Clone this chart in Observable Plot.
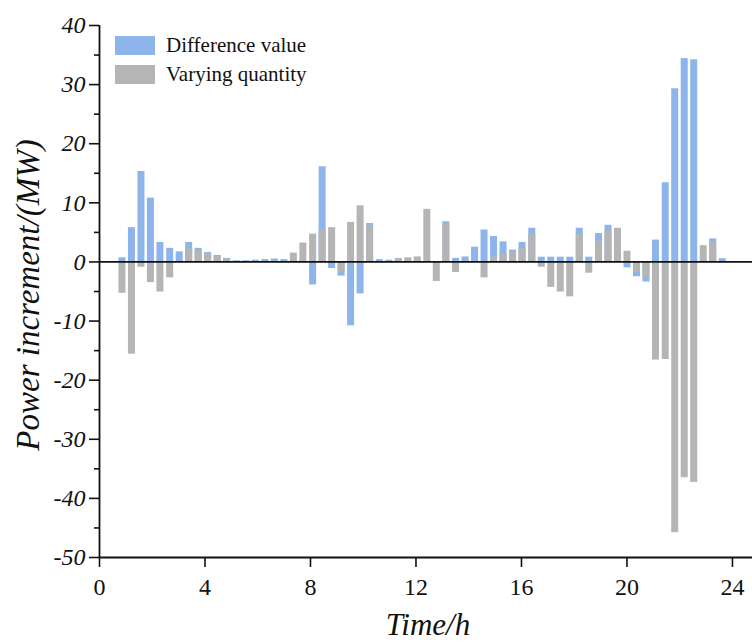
<!DOCTYPE html>
<html>
<head>
<meta charset="utf-8">
<script src="https://cdn.jsdelivr.net/npm/d3@7"></script>
<script src="https://cdn.jsdelivr.net/npm/@observablehq/plot@0.6"></script>
<style>
  html, body { margin: 0; padding: 0; background: #fff; }
  #wrap { position: relative; width: 752px; height: 642px; overflow: hidden; font-family: "Liberation Serif", "Times New Roman", serif; }
  #wrap svg { position: absolute; left: 0; top: 0; }
  #wrap svg text { font-family: "Liberation Serif", "Times New Roman", serif; }
  .legend { position: absolute; left: 115px; top: 31px; font-size: 21px; color: #111; }
  .legend .row { display: flex; align-items: center; height: 29px; }
  .legend .sw { width: 40px; height: 19px; margin-right: 11px; }
  .ylab { position: absolute; left: 28px; top: 295px; transform: translate(-50%, -50%) rotate(-90deg); font-size: 33px; line-height: 1; font-style: italic; white-space: nowrap; color: #111; }
  .xlab { position: absolute; left: 428px; top: 609px; transform: translateX(-50%); font-size: 31px; line-height: 1; font-style: italic; white-space: nowrap; color: #111; }
</style>
</head>
<body>
<div id="wrap"></div>
<script>
// Time of each bar (h)
const times = [0.87, 1.23, 1.59, 1.95, 2.31, 2.68, 3.04, 3.40, 3.76, 4.12, 4.48, 4.84, 5.21, 5.57, 5.93, 6.29,
  6.65, 7.01, 7.37, 7.73, 8.10, 8.46, 8.82, 9.18, 9.54, 9.90, 10.26, 10.63, 10.99, 11.35, 11.71, 12.07,
  12.43, 12.79, 13.15, 13.52, 13.88, 14.24, 14.60, 14.96, 15.32, 15.68, 16.04, 16.41, 16.77, 17.13, 17.49, 17.85,
  18.21, 18.57, 18.94, 19.30, 19.66, 20.02, 20.38, 20.74, 21.10, 21.47, 21.83, 22.19, 22.55, 22.91, 23.27, 23.63];
// Difference value (MW)
const diffValues = [0.7, 5.8, 15.3, 10.8, 3.3, 2.3, 1.7, 3.3, 2.3, 1.6, 1.1, 0.6, 0.2, 0.2, 0.3, 0.4,
  0.5, 0.4, 0, 0, -3.9, 16.1, -1.1, -2.4, -10.8, -5.4, 6.5, 0.4, 0.3, 0.4, 0, 0,
  0, 0, 6.8, 0.6, 0.85, 2.5, 5.4, 4.3, 3.4, 2.0, 3.3, 5.7, 0.8, 0.8, 0.8, 0.8,
  5.7, 0.8, 4.8, 6.2, 0, -1.0, -2.5, -3.4, 3.7, 13.4, 29.3, 34.4, 34.2, 0, 3.9, 0.55];
// Varying quantity (MW)
const varyValues = [-5.3, -15.6, -0.9, -3.5, -5.1, -2.7, 0, 2.3, 1.9, 1.4, 1.0, 0.5, 0.1, 0.1, 0.1, 0.1,
  0.1, 0.1, 1.5, 3.2, 4.7, 5.5, 5.8, -1.6, 6.7, 9.5, 6.2, 0.1, 0.1, 0.6, 0.7, 0.85,
  8.9, -3.3, 6.4, -1.8, 0.2, 0, -2.7, 0.8, 1.3, 1.6, 2.3, 4.7, -0.9, -4.3, -5.1, -5.9,
  4.7, -1.9, 3.5, 5.2, 5.7, 1.8, -1.8, -2.6, -16.6, -16.5, -45.8, -36.5, -37.3, 2.75, 3.3, 0];

const seriesNames = ["Difference value", "Varying quantity"];
const seriesColors = ["#8db5ec", "#b5b5b5"];
const xTicks = [0, 4, 8, 12, 16, 20, 24];
const yTicks = [-50, -40, -30, -20, -10, 0, 10, 20, 30, 40];
const yMinorTicks = [-45, -35, -25, -15, -5, 5, 15, 25, 35];

const serif = "Liberation Serif";
const half = 0.133;
const diffData = times.map((t, i) => ({t, v: diffValues[i]}));
const varyData = times.map((t, i) => ({t, v: varyValues[i]}));
const fmt = d => String(d);

const chart = Plot.plot({
  width: 752,
  height: 642,
  marginLeft: 99,
  marginRight: 0,
  marginTop: 25,
  marginBottom: 85,
  style: {fontFamily: "'Liberation Serif', 'Times New Roman', serif", color: "#111", background: "transparent"},
  x: {domain: [0, 24.76]},
  y: {domain: [-50, 40]},
  marks: [
    Plot.rectY(diffData, {x1: d => d.t - half, x2: d => d.t + half, y1: 0, y2: "v", fill: seriesColors[0]}),
    Plot.rectY(varyData, {x1: d => d.t - half, x2: d => d.t + half, y1: 0, y2: "v", fill: seriesColors[1]}),
    Plot.ruleY([0], {stroke: "#111", strokeWidth: 1.8}),
    Plot.ruleX([0], {stroke: "#111", strokeWidth: 1.8}),
    Plot.ruleY([-50], {stroke: "#111", strokeWidth: 1.8}),
    Plot.axisY({ticks: yTicks, tickSize: 10, tickPadding: 4, tickFormat: fmt, fontSize: 24, fontFamily: serif, fontStyle: "italic", label: null, strokeWidth: 1.6}),
    Plot.axisY({ticks: yMinorTicks, tickSize: 5, tickFormat: null, text: null, label: null, strokeWidth: 1.6}),
    Plot.axisX({ticks: xTicks, tickSize: 10, tickPadding: 10, tickFormat: fmt, fontSize: 24, fontFamily: serif, label: null, strokeWidth: 1.6})
  ]
});

const wrap = document.getElementById("wrap");
wrap.appendChild(chart);

const legend = document.createElement("div");
legend.className = "legend";
seriesNames.forEach((name, i) => {
  const row = document.createElement("div");
  row.className = "row";
  const sw = document.createElement("div");
  sw.className = "sw";
  sw.style.background = seriesColors[i];
  const tx = document.createElement("span");
  tx.textContent = name;
  row.appendChild(sw);
  row.appendChild(tx);
  legend.appendChild(row);
});
wrap.appendChild(legend);

const ylab = document.createElement("div");
ylab.className = "ylab";
ylab.textContent = "Power increment/(MW)";
wrap.appendChild(ylab);

const xlab = document.createElement("div");
xlab.className = "xlab";
xlab.textContent = "Time/h";
wrap.appendChild(xlab);
</script>
</body>
</html>
